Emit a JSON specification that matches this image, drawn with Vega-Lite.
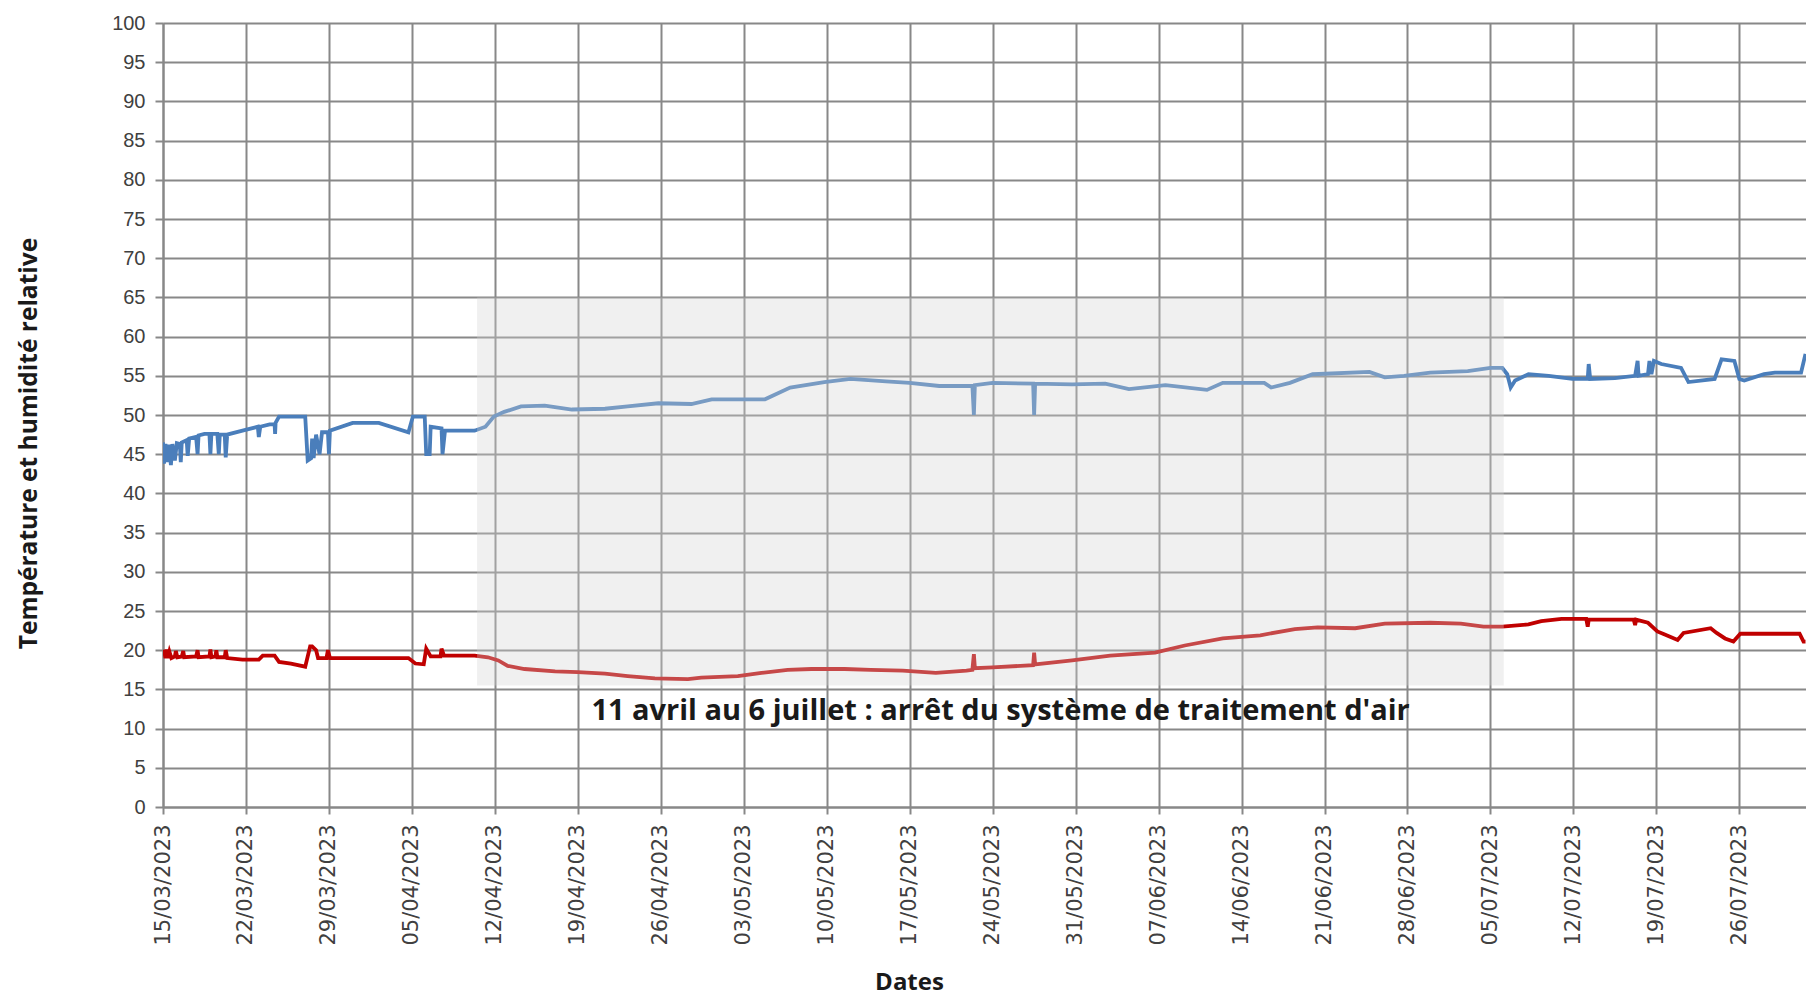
{
  "$schema": "https://vega.github.io/schema/vega-lite/v6.json",
  "width": 1643,
  "height": 784,
  "autosize": "none",
  "padding": {"left": 163, "top": 23, "right": 0, "bottom": 190},
  "background": "white",
  "config": {
    "view": {"stroke": null},
    "axis": {
      "gridColor": "#888888",
      "gridWidth": 2,
      "gridOpacity": 1,
      "domainColor": "#888888",
      "domainWidth": 2,
      "tickColor": "#888888",
      "tickWidth": 2,
      "tickSize": 8,
      "labelFont": "DejaVu Sans",
      "labelFontSize": 18,
      "labelColor": "#404040",
      "titleFont": "Open Sans",
      "titleFontWeight": "bold",
      "titleColor": "#1a1a1a"
    }
  },
  "datasets": {
    "mesures": [
      {"date":"2023-03-15T00:00","valeur":46.5,"serie":"HR"},
      {"date":"2023-03-15T02:00","valeur":43.8,"serie":"HR"},
      {"date":"2023-03-15T05:00","valeur":46.3,"serie":"HR"},
      {"date":"2023-03-15T08:00","valeur":44.0,"serie":"HR"},
      {"date":"2023-03-15T12:00","valeur":46.2,"serie":"HR"},
      {"date":"2023-03-15T16:00","valeur":43.6,"serie":"HR"},
      {"date":"2023-03-15T19:00","valeur":46.3,"serie":"HR"},
      {"date":"2023-03-16T00:00","valeur":44.2,"serie":"HR"},
      {"date":"2023-03-16T04:00","valeur":46.4,"serie":"HR"},
      {"date":"2023-03-16T10:00","valeur":46.3,"serie":"HR"},
      {"date":"2023-03-16T12:00","valeur":44.0,"serie":"HR"},
      {"date":"2023-03-16T14:00","valeur":46.5,"serie":"HR"},
      {"date":"2023-03-17T00:00","valeur":46.8,"serie":"HR"},
      {"date":"2023-03-17T02:00","valeur":44.8,"serie":"HR"},
      {"date":"2023-03-17T05:00","valeur":47.0,"serie":"HR"},
      {"date":"2023-03-17T19:00","valeur":47.2,"serie":"HR"},
      {"date":"2023-03-17T22:00","valeur":45.0,"serie":"HR"},
      {"date":"2023-03-18T00:00","valeur":47.4,"serie":"HR"},
      {"date":"2023-03-18T12:00","valeur":47.6,"serie":"HR"},
      {"date":"2023-03-18T22:00","valeur":47.6,"serie":"HR"},
      {"date":"2023-03-19T00:00","valeur":45.0,"serie":"HR"},
      {"date":"2023-03-19T02:00","valeur":47.6,"serie":"HR"},
      {"date":"2023-03-19T14:00","valeur":47.6,"serie":"HR"},
      {"date":"2023-03-19T17:00","valeur":45.0,"serie":"HR"},
      {"date":"2023-03-19T19:00","valeur":47.5,"serie":"HR"},
      {"date":"2023-03-20T05:00","valeur":47.5,"serie":"HR"},
      {"date":"2023-03-20T07:00","valeur":44.6,"serie":"HR"},
      {"date":"2023-03-20T10:00","valeur":47.5,"serie":"HR"},
      {"date":"2023-03-21T17:00","valeur":48.0,"serie":"HR"},
      {"date":"2023-03-23T00:00","valeur":48.5,"serie":"HR"},
      {"date":"2023-03-23T02:00","valeur":47.2,"serie":"HR"},
      {"date":"2023-03-23T05:00","valeur":48.5,"serie":"HR"},
      {"date":"2023-03-24T00:00","valeur":48.8,"serie":"HR"},
      {"date":"2023-03-24T10:00","valeur":48.8,"serie":"HR"},
      {"date":"2023-03-24T11:00","valeur":47.6,"serie":"HR"},
      {"date":"2023-03-24T12:00","valeur":49.0,"serie":"HR"},
      {"date":"2023-03-24T19:00","valeur":49.8,"serie":"HR"},
      {"date":"2023-03-27T00:00","valeur":49.8,"serie":"HR"},
      {"date":"2023-03-27T05:00","valeur":44.2,"serie":"HR"},
      {"date":"2023-03-27T12:00","valeur":44.5,"serie":"HR"},
      {"date":"2023-03-27T14:00","valeur":47.0,"serie":"HR"},
      {"date":"2023-03-27T17:00","valeur":44.5,"serie":"HR"},
      {"date":"2023-03-27T22:00","valeur":47.5,"serie":"HR"},
      {"date":"2023-03-28T05:00","valeur":45.0,"serie":"HR"},
      {"date":"2023-03-28T10:00","valeur":47.8,"serie":"HR"},
      {"date":"2023-03-28T22:00","valeur":47.8,"serie":"HR"},
      {"date":"2023-03-29T00:00","valeur":45.0,"serie":"HR"},
      {"date":"2023-03-29T02:00","valeur":48.0,"serie":"HR"},
      {"date":"2023-03-31T00:00","valeur":49.0,"serie":"HR"},
      {"date":"2023-04-02T05:00","valeur":49.0,"serie":"HR"},
      {"date":"2023-04-04T17:00","valeur":47.8,"serie":"HR"},
      {"date":"2023-04-05T02:00","valeur":49.8,"serie":"HR"},
      {"date":"2023-04-06T02:00","valeur":49.8,"serie":"HR"},
      {"date":"2023-04-06T05:00","valeur":45.0,"serie":"HR"},
      {"date":"2023-04-06T12:00","valeur":45.0,"serie":"HR"},
      {"date":"2023-04-06T14:00","valeur":48.5,"serie":"HR"},
      {"date":"2023-04-07T12:00","valeur":48.3,"serie":"HR"},
      {"date":"2023-04-07T14:00","valeur":45.0,"serie":"HR"},
      {"date":"2023-04-07T19:00","valeur":48.0,"serie":"HR"},
      {"date":"2023-04-10T07:00","valeur":48.0,"serie":"HR"},
      {"date":"2023-04-11T05:00","valeur":48.5,"serie":"HR"},
      {"date":"2023-04-11T22:00","valeur":49.8,"serie":"HR"},
      {"date":"2023-04-12T19:00","valeur":50.4,"serie":"HR"},
      {"date":"2023-04-14T05:00","valeur":51.1,"serie":"HR"},
      {"date":"2023-04-16T05:00","valeur":51.2,"serie":"HR"},
      {"date":"2023-04-18T12:00","valeur":50.7,"serie":"HR"},
      {"date":"2023-04-21T07:00","valeur":50.8,"serie":"HR"},
      {"date":"2023-04-23T05:00","valeur":51.1,"serie":"HR"},
      {"date":"2023-04-25T19:00","valeur":51.5,"serie":"HR"},
      {"date":"2023-04-28T14:00","valeur":51.4,"serie":"HR"},
      {"date":"2023-04-30T07:00","valeur":52.0,"serie":"HR"},
      {"date":"2023-05-04T19:00","valeur":52.0,"serie":"HR"},
      {"date":"2023-05-06T22:00","valeur":53.5,"serie":"HR"},
      {"date":"2023-05-09T19:00","valeur":54.2,"serie":"HR"},
      {"date":"2023-05-12T00:00","valeur":54.6,"serie":"HR"},
      {"date":"2023-05-15T00:00","valeur":54.3,"serie":"HR"},
      {"date":"2023-05-17T00:00","valeur":54.1,"serie":"HR"},
      {"date":"2023-05-19T12:00","valeur":53.7,"serie":"HR"},
      {"date":"2023-05-22T07:00","valeur":53.7,"serie":"HR"},
      {"date":"2023-05-22T10:00","valeur":50.0,"serie":"HR"},
      {"date":"2023-05-22T12:00","valeur":53.8,"serie":"HR"},
      {"date":"2023-05-24T00:00","valeur":54.1,"serie":"HR"},
      {"date":"2023-05-27T10:00","valeur":54.0,"serie":"HR"},
      {"date":"2023-05-27T12:00","valeur":50.0,"serie":"HR"},
      {"date":"2023-05-27T14:00","valeur":54.0,"serie":"HR"},
      {"date":"2023-05-30T17:00","valeur":53.9,"serie":"HR"},
      {"date":"2023-06-02T12:00","valeur":54.0,"serie":"HR"},
      {"date":"2023-06-04T12:00","valeur":53.3,"serie":"HR"},
      {"date":"2023-06-07T14:00","valeur":53.8,"serie":"HR"},
      {"date":"2023-06-11T02:00","valeur":53.2,"serie":"HR"},
      {"date":"2023-06-12T10:00","valeur":54.1,"serie":"HR"},
      {"date":"2023-06-15T22:00","valeur":54.1,"serie":"HR"},
      {"date":"2023-06-16T12:00","valeur":53.5,"serie":"HR"},
      {"date":"2023-06-18T02:00","valeur":54.1,"serie":"HR"},
      {"date":"2023-06-20T00:00","valeur":55.2,"serie":"HR"},
      {"date":"2023-06-24T19:00","valeur":55.5,"serie":"HR"},
      {"date":"2023-06-26T02:00","valeur":54.8,"serie":"HR"},
      {"date":"2023-06-27T17:00","valeur":55.0,"serie":"HR"},
      {"date":"2023-06-29T22:00","valeur":55.4,"serie":"HR"},
      {"date":"2023-07-03T02:00","valeur":55.6,"serie":"HR"},
      {"date":"2023-07-05T00:00","valeur":56.0,"serie":"HR"},
      {"date":"2023-07-06T00:00","valeur":56.0,"serie":"HR"},
      {"date":"2023-07-06T10:00","valeur":55.2,"serie":"HR"},
      {"date":"2023-07-06T17:00","valeur":53.5,"serie":"HR"},
      {"date":"2023-07-07T02:00","valeur":54.4,"serie":"HR"},
      {"date":"2023-07-08T05:00","valeur":55.2,"serie":"HR"},
      {"date":"2023-07-09T22:00","valeur":55.0,"serie":"HR"},
      {"date":"2023-07-11T22:00","valeur":54.6,"serie":"HR"},
      {"date":"2023-07-13T05:00","valeur":54.6,"serie":"HR"},
      {"date":"2023-07-13T07:00","valeur":56.5,"serie":"HR"},
      {"date":"2023-07-13T10:00","valeur":54.6,"serie":"HR"},
      {"date":"2023-07-15T12:00","valeur":54.7,"serie":"HR"},
      {"date":"2023-07-17T05:00","valeur":55.0,"serie":"HR"},
      {"date":"2023-07-17T10:00","valeur":56.9,"serie":"HR"},
      {"date":"2023-07-17T12:00","valeur":55.0,"serie":"HR"},
      {"date":"2023-07-18T07:00","valeur":55.2,"serie":"HR"},
      {"date":"2023-07-18T10:00","valeur":56.9,"serie":"HR"},
      {"date":"2023-07-18T14:00","valeur":55.2,"serie":"HR"},
      {"date":"2023-07-18T19:00","valeur":56.9,"serie":"HR"},
      {"date":"2023-07-19T10:00","valeur":56.5,"serie":"HR"},
      {"date":"2023-07-21T02:00","valeur":56.0,"serie":"HR"},
      {"date":"2023-07-21T17:00","valeur":54.2,"serie":"HR"},
      {"date":"2023-07-23T22:00","valeur":54.6,"serie":"HR"},
      {"date":"2023-07-24T12:00","valeur":57.1,"serie":"HR"},
      {"date":"2023-07-25T14:00","valeur":56.9,"serie":"HR"},
      {"date":"2023-07-26T00:00","valeur":54.6,"serie":"HR"},
      {"date":"2023-07-26T10:00","valeur":54.4,"serie":"HR"},
      {"date":"2023-07-28T02:00","valeur":55.2,"serie":"HR"},
      {"date":"2023-07-29T00:00","valeur":55.4,"serie":"HR"},
      {"date":"2023-07-31T05:00","valeur":55.4,"serie":"HR"},
      {"date":"2023-07-31T14:00","valeur":57.8,"serie":"HR"},
      {"date":"2023-03-15T00:00","valeur":19.5,"serie":"T"},
      {"date":"2023-03-15T02:00","valeur":20.0,"serie":"T"},
      {"date":"2023-03-15T05:00","valeur":19.0,"serie":"T"},
      {"date":"2023-03-15T07:00","valeur":20.1,"serie":"T"},
      {"date":"2023-03-15T10:00","valeur":19.0,"serie":"T"},
      {"date":"2023-03-15T13:00","valeur":19.8,"serie":"T"},
      {"date":"2023-03-15T17:00","valeur":19.0,"serie":"T"},
      {"date":"2023-03-16T00:00","valeur":19.2,"serie":"T"},
      {"date":"2023-03-16T02:00","valeur":19.9,"serie":"T"},
      {"date":"2023-03-16T05:00","valeur":19.1,"serie":"T"},
      {"date":"2023-03-16T14:00","valeur":19.2,"serie":"T"},
      {"date":"2023-03-16T17:00","valeur":19.9,"serie":"T"},
      {"date":"2023-03-16T19:00","valeur":19.1,"serie":"T"},
      {"date":"2023-03-17T19:00","valeur":19.2,"serie":"T"},
      {"date":"2023-03-17T22:00","valeur":20.0,"serie":"T"},
      {"date":"2023-03-18T00:00","valeur":19.1,"serie":"T"},
      {"date":"2023-03-18T22:00","valeur":19.2,"serie":"T"},
      {"date":"2023-03-19T00:00","valeur":20.1,"serie":"T"},
      {"date":"2023-03-19T02:00","valeur":19.1,"serie":"T"},
      {"date":"2023-03-19T10:00","valeur":19.2,"serie":"T"},
      {"date":"2023-03-19T12:00","valeur":20.0,"serie":"T"},
      {"date":"2023-03-19T14:00","valeur":19.1,"serie":"T"},
      {"date":"2023-03-20T05:00","valeur":19.1,"serie":"T"},
      {"date":"2023-03-20T07:00","valeur":20.0,"serie":"T"},
      {"date":"2023-03-20T10:00","valeur":19.0,"serie":"T"},
      {"date":"2023-03-21T17:00","valeur":18.8,"serie":"T"},
      {"date":"2023-03-23T02:00","valeur":18.8,"serie":"T"},
      {"date":"2023-03-23T10:00","valeur":19.3,"serie":"T"},
      {"date":"2023-03-24T10:00","valeur":19.3,"serie":"T"},
      {"date":"2023-03-24T19:00","valeur":18.5,"serie":"T"},
      {"date":"2023-03-25T19:00","valeur":18.3,"serie":"T"},
      {"date":"2023-03-27T00:00","valeur":17.9,"serie":"T"},
      {"date":"2023-03-27T10:00","valeur":20.5,"serie":"T"},
      {"date":"2023-03-27T14:00","valeur":20.5,"serie":"T"},
      {"date":"2023-03-27T22:00","valeur":20.0,"serie":"T"},
      {"date":"2023-03-28T02:00","valeur":19.0,"serie":"T"},
      {"date":"2023-03-28T19:00","valeur":19.0,"serie":"T"},
      {"date":"2023-03-28T22:00","valeur":20.0,"serie":"T"},
      {"date":"2023-03-29T02:00","valeur":19.0,"serie":"T"},
      {"date":"2023-04-04T17:00","valeur":19.0,"serie":"T"},
      {"date":"2023-04-05T07:00","valeur":18.3,"serie":"T"},
      {"date":"2023-04-06T00:00","valeur":18.2,"serie":"T"},
      {"date":"2023-04-06T05:00","valeur":20.2,"serie":"T"},
      {"date":"2023-04-06T14:00","valeur":19.2,"serie":"T"},
      {"date":"2023-04-07T10:00","valeur":19.2,"serie":"T"},
      {"date":"2023-04-07T12:00","valeur":20.2,"serie":"T"},
      {"date":"2023-04-07T17:00","valeur":19.3,"serie":"T"},
      {"date":"2023-04-10T07:00","valeur":19.3,"serie":"T"},
      {"date":"2023-04-11T10:00","valeur":19.1,"serie":"T"},
      {"date":"2023-04-12T07:00","valeur":18.7,"serie":"T"},
      {"date":"2023-04-13T02:00","valeur":18.0,"serie":"T"},
      {"date":"2023-04-14T12:00","valeur":17.6,"serie":"T"},
      {"date":"2023-04-17T02:00","valeur":17.3,"serie":"T"},
      {"date":"2023-04-19T00:00","valeur":17.2,"serie":"T"},
      {"date":"2023-04-21T07:00","valeur":17.0,"serie":"T"},
      {"date":"2023-04-23T05:00","valeur":16.7,"serie":"T"},
      {"date":"2023-04-25T12:00","valeur":16.4,"serie":"T"},
      {"date":"2023-04-28T07:00","valeur":16.3,"serie":"T"},
      {"date":"2023-04-29T10:00","valeur":16.5,"serie":"T"},
      {"date":"2023-05-02T12:00","valeur":16.7,"serie":"T"},
      {"date":"2023-05-04T12:00","valeur":17.1,"serie":"T"},
      {"date":"2023-05-06T17:00","valeur":17.5,"serie":"T"},
      {"date":"2023-05-08T17:00","valeur":17.6,"serie":"T"},
      {"date":"2023-05-11T12:00","valeur":17.6,"serie":"T"},
      {"date":"2023-05-13T17:00","valeur":17.5,"serie":"T"},
      {"date":"2023-05-16T10:00","valeur":17.4,"serie":"T"},
      {"date":"2023-05-19T05:00","valeur":17.1,"serie":"T"},
      {"date":"2023-05-21T19:00","valeur":17.4,"serie":"T"},
      {"date":"2023-05-22T07:00","valeur":17.5,"serie":"T"},
      {"date":"2023-05-22T10:00","valeur":19.5,"serie":"T"},
      {"date":"2023-05-22T12:00","valeur":17.7,"serie":"T"},
      {"date":"2023-05-24T00:00","valeur":17.8,"serie":"T"},
      {"date":"2023-05-27T10:00","valeur":18.1,"serie":"T"},
      {"date":"2023-05-27T12:00","valeur":19.7,"serie":"T"},
      {"date":"2023-05-27T14:00","valeur":18.2,"serie":"T"},
      {"date":"2023-05-30T17:00","valeur":18.7,"serie":"T"},
      {"date":"2023-06-02T22:00","valeur":19.3,"serie":"T"},
      {"date":"2023-06-06T17:00","valeur":19.7,"serie":"T"},
      {"date":"2023-06-09T05:00","valeur":20.6,"serie":"T"},
      {"date":"2023-06-12T10:00","valeur":21.5,"serie":"T"},
      {"date":"2023-06-15T14:00","valeur":21.9,"serie":"T"},
      {"date":"2023-06-18T12:00","valeur":22.7,"serie":"T"},
      {"date":"2023-06-20T10:00","valeur":22.9,"serie":"T"},
      {"date":"2023-06-23T14:00","valeur":22.8,"serie":"T"},
      {"date":"2023-06-26T02:00","valeur":23.4,"serie":"T"},
      {"date":"2023-06-29T22:00","valeur":23.5,"serie":"T"},
      {"date":"2023-07-02T12:00","valeur":23.4,"serie":"T"},
      {"date":"2023-07-04T10:00","valeur":23.0,"serie":"T"},
      {"date":"2023-07-06T00:00","valeur":23.0,"serie":"T"},
      {"date":"2023-07-08T05:00","valeur":23.3,"serie":"T"},
      {"date":"2023-07-09T07:00","valeur":23.7,"serie":"T"},
      {"date":"2023-07-11T00:00","valeur":24.0,"serie":"T"},
      {"date":"2023-07-13T02:00","valeur":24.0,"serie":"T"},
      {"date":"2023-07-13T05:00","valeur":23.0,"serie":"T"},
      {"date":"2023-07-13T07:00","valeur":23.9,"serie":"T"},
      {"date":"2023-07-17T02:00","valeur":23.9,"serie":"T"},
      {"date":"2023-07-17T05:00","valeur":23.2,"serie":"T"},
      {"date":"2023-07-17T07:00","valeur":23.9,"serie":"T"},
      {"date":"2023-07-18T07:00","valeur":23.5,"serie":"T"},
      {"date":"2023-07-19T02:00","valeur":22.4,"serie":"T"},
      {"date":"2023-07-19T17:00","valeur":22.0,"serie":"T"},
      {"date":"2023-07-20T19:00","valeur":21.3,"serie":"T"},
      {"date":"2023-07-21T07:00","valeur":22.2,"serie":"T"},
      {"date":"2023-07-23T14:00","valeur":22.8,"serie":"T"},
      {"date":"2023-07-24T02:00","valeur":22.2,"serie":"T"},
      {"date":"2023-07-24T19:00","valeur":21.5,"serie":"T"},
      {"date":"2023-07-25T12:00","valeur":21.1,"serie":"T"},
      {"date":"2023-07-26T02:00","valeur":22.1,"serie":"T"},
      {"date":"2023-07-31T02:00","valeur":22.1,"serie":"T"},
      {"date":"2023-07-31T10:00","valeur":21.1,"serie":"T"},
      {"date":"2023-07-31T14:00","valeur":21.1,"serie":"T"}
    ],
    "periode": [
      {"date":"2023-04-10T12:00","date_fin":"2023-07-06T03:00","valeur":15.5,"valeur_haut":65}
    ],
    "note": [
      {"date":"2023-05-24T16:00","valeur":12.2,"texte":"11 avril au 6 juillet : arrêt du système de traitement d'air"}
    ]
  },
  "encoding": {
    "x": {
      "field": "date", "type": "temporal",
      "scale": {"domain": [{"year": 2023, "month": "mar", "date": 15}, {"year": 2023, "month": "jul", "date": 31, "hours": 15}]},
      "axis": {
        "title": "Dates",
        "titleFontSize": 24,
        "titleX": 746,
        "titleY": 175,
        "titleBaseline": "middle",
        "titleAnchor": null,
        "titleAlign": "center",
        "format": "%d/%m/%Y",
        "labelAngle": 270,
        "labelFontSize": 21,
        "labelPadding": 10,
        "labelOverlap": false,
        "labelFlush": false,
        "tickSize": 7,
        "values": [
          {"year": 2023, "month": "mar", "date": 15},
          {"year": 2023, "month": "mar", "date": 22},
          {"year": 2023, "month": "mar", "date": 29},
          {"year": 2023, "month": "apr", "date": 5},
          {"year": 2023, "month": "apr", "date": 12},
          {"year": 2023, "month": "apr", "date": 19},
          {"year": 2023, "month": "apr", "date": 26},
          {"year": 2023, "month": "may", "date": 3},
          {"year": 2023, "month": "may", "date": 10},
          {"year": 2023, "month": "may", "date": 17},
          {"year": 2023, "month": "may", "date": 24},
          {"year": 2023, "month": "may", "date": 31},
          {"year": 2023, "month": "jun", "date": 7},
          {"year": 2023, "month": "jun", "date": 14},
          {"year": 2023, "month": "jun", "date": 21},
          {"year": 2023, "month": "jun", "date": 28},
          {"year": 2023, "month": "jul", "date": 5},
          {"year": 2023, "month": "jul", "date": 12},
          {"year": 2023, "month": "jul", "date": 19},
          {"year": 2023, "month": "jul", "date": 26}
        ]
      }
    },
    "y": {
      "field": "valeur", "type": "quantitative",
      "scale": {"domain": [0, 100], "nice": false, "zero": true},
      "axis": {
        "title": "Température et humidité relative",
        "titleFontSize": 24.5,
        "titleX": -134,
        "titleY": 420,
        "titleBaseline": "middle",
        "titleAlign": "center",
        "titleAnchor": null,
        "values": [0,5,10,15,20,25,30,35,40,45,50,55,60,65,70,75,80,85,90,95,100],
        "labelFont": "Liberation Sans",
        "labelFontSize": 20,
        "labelPadding": 10,
        "labelFlush": false,
        "labelOverlap": false
      }
    }
  },
  "layer": [
    {
      "data": {"name": "mesures"},
      "mark": {"type": "line", "strokeWidth": 3.8, "clip": true, "interpolate": "linear", "strokeJoin": "miter"},
      "encoding": {
        "color": {
          "field": "serie", "type": "nominal",
          "scale": {"domain": ["HR", "T"], "range": ["#4a7ebb", "#c00000"]},
          "legend": null
        },
        "detail": {"field": "serie"}
      }
    },
    {
      "data": {"name": "periode"},
      "mark": {"type": "rect", "color": "#d2d2d2", "opacity": 0.34},
      "encoding": {
        "x2": {"field": "date_fin"},
        "y2": {"field": "valeur_haut"}
      }
    },
    {
      "data": {"name": "note"},
      "mark": {"type": "text", "font": "Open Sans", "fontWeight": "bold", "fontSize": 29, "color": "#1a1a1a", "align": "center", "baseline": "middle"},
      "encoding": {
        "text": {"field": "texte"}
      }
    }
  ]
}
